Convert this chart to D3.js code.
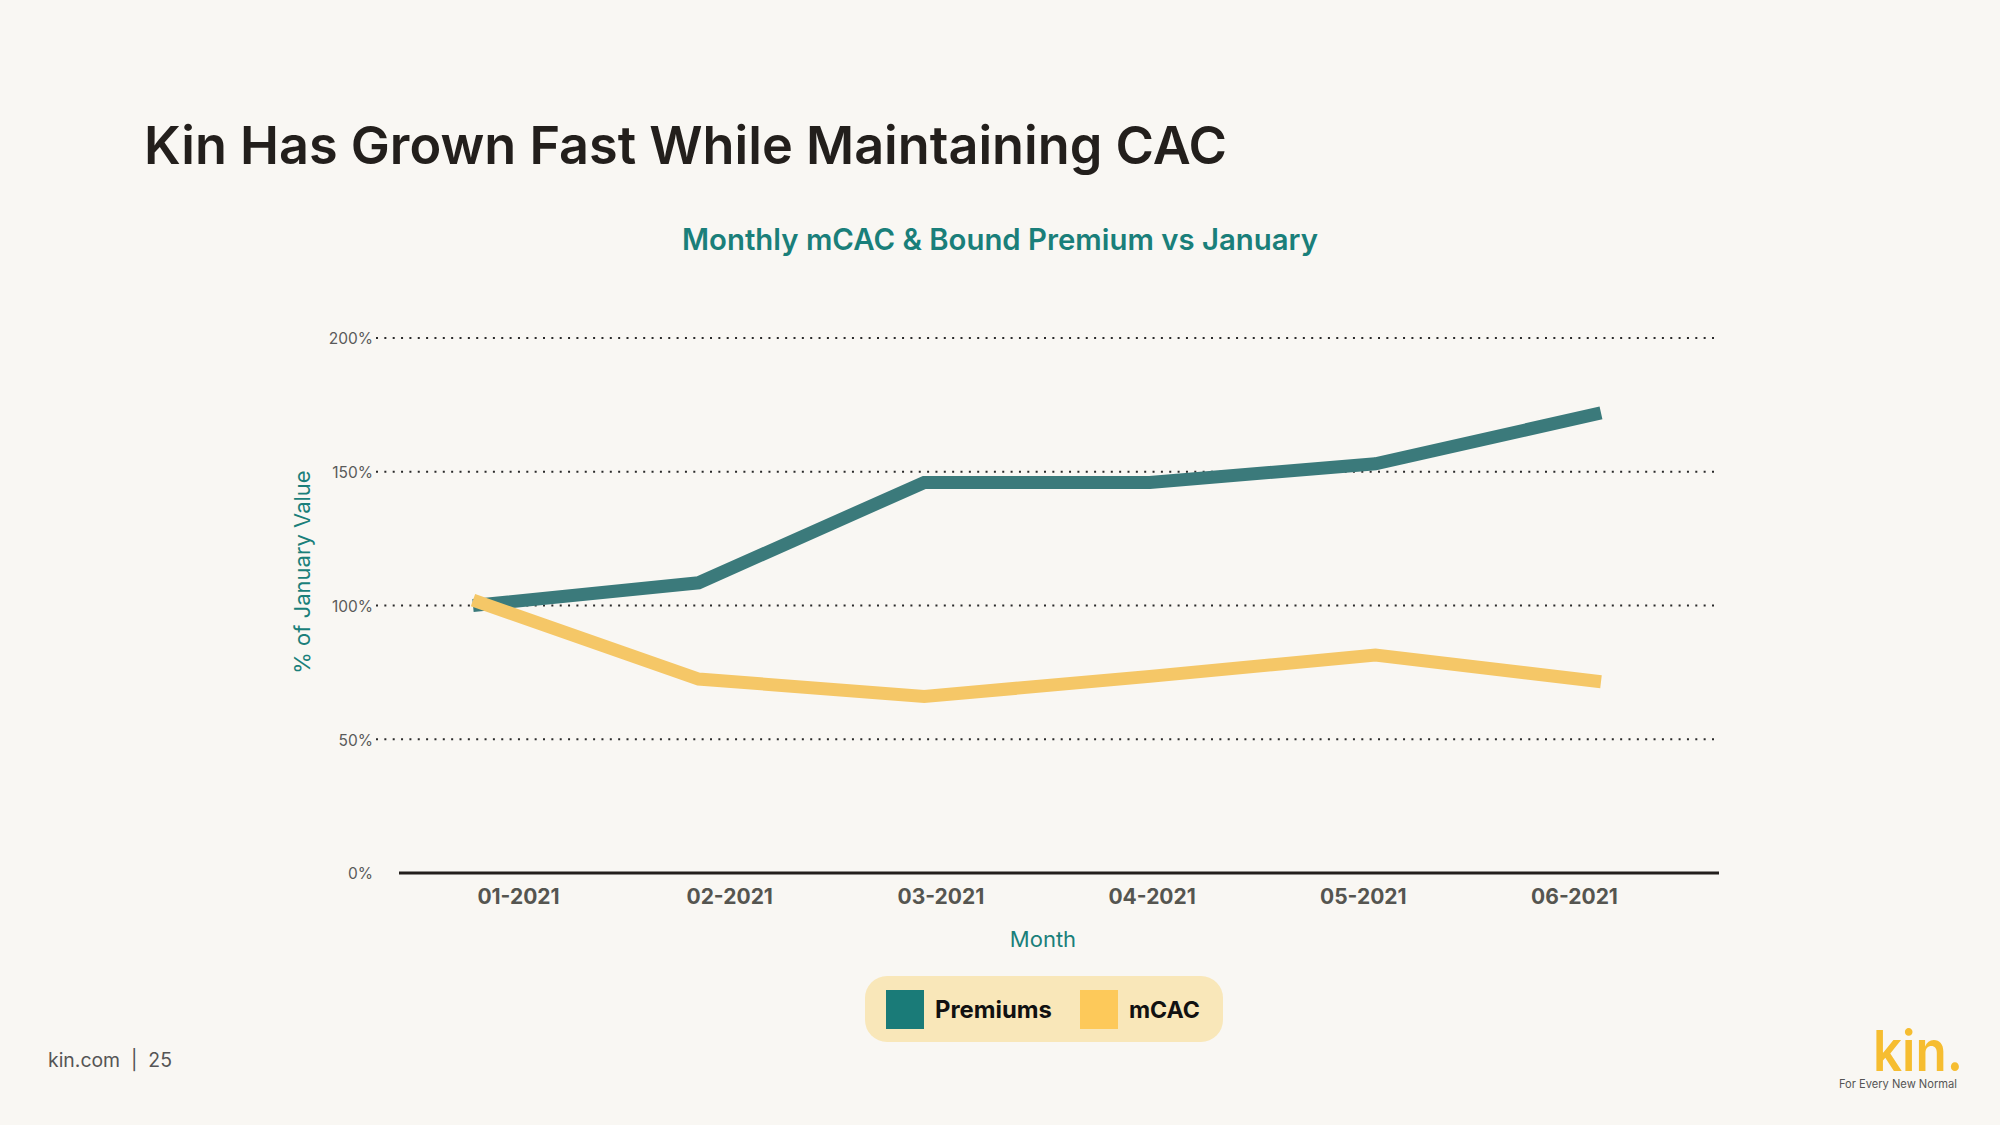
<!DOCTYPE html>
<html><head><meta charset="utf-8">
<script src="https://cdn.jsdelivr.net/npm/d3@7"></script>
<style>html,body{margin:0;padding:0;background:#f9f7f3;}svg{display:block;}</style>
</head><body>
<script>
const months = ["01-2021","02-2021","03-2021","04-2021","05-2021","06-2021"];
const premiums = [100, 108.5, 146, 146, 153, 172];
const mcac = [102, 72.5, 66, 73.5, 81.5, 71.5];
const yTicks = [0, 50, 100, 150, 200];
const seriesNames = ["Premiums", "mCAC"];

const W = 2000, H = 1125;
const FONT = "Inter, 'Noto Sans', sans-serif";
const svg = d3.select("body").append("svg").attr("width", W).attr("height", H);
svg.append("rect").attr("width", W).attr("height", H).attr("fill", "#f9f7f3");

function fit(sel, targetW) {
  const w = sel.node().getComputedTextLength();
  const fs = parseFloat(sel.attr("font-size"));
  sel.attr("font-size", (fs * targetW / w).toFixed(2));
  return sel;
}

// Title
fit(svg.append("text").attr("x", 144).attr("y", 164).attr("font-family", FONT)
  .attr("font-weight", 600).attr("font-size", 54).attr("fill", "#231f1c")
  .text("Kin Has Grown Fast While Maintaining CAC"), 1083);

// Subtitle
fit(svg.append("text").attr("x", 1000).attr("y", 250).attr("text-anchor", "middle")
  .attr("font-family", FONT).attr("font-weight", 600).attr("font-size", 30)
  .attr("fill", "#1a7f7a").text("Monthly mCAC & Bound Premium vs January"), 636);

const y = d3.scaleLinear().domain([0, 200]).range([873, 338]);
const xLine = d3.scalePoint().domain(months).range([473, 1601]);
const xLabel = d3.scalePoint().domain(months).range([518, 1574]);

// Gridlines
svg.append("g").selectAll("line").data(yTicks.filter(d => d > 0)).join("line")
  .attr("x1", 376).attr("x2", 1718)
  .attr("y1", d => y(d)).attr("y2", d => y(d))
  .attr("stroke", "#2a2a2a").attr("stroke-width", 2)
  .attr("stroke-dasharray", "2,6.35");

// Y axis labels
const yAxis = d3.axisLeft(y).tickValues(yTicks).tickFormat(d => d + "%").tickSize(0).tickPadding(0);
const gy = svg.append("g").attr("transform", "translate(373,1)").call(yAxis);
gy.select(".domain").remove();
gy.selectAll("text").attr("font-family", FONT).attr("font-size", 15.5).attr("fill", "#5a5a5a");

// X axis line
svg.append("line").attr("x1", 399).attr("x2", 1719).attr("y1", y(0)).attr("y2", y(0))
  .attr("stroke", "#231f1c").attr("stroke-width", 3);

// X axis labels
const xAxis = d3.axisBottom(xLabel).tickSize(0).tickPadding(0);
const gx = svg.append("g").attr("transform", `translate(0,${y(0) + 24})`).call(xAxis);
gx.select(".domain").remove();
gx.selectAll("text").attr("font-family", FONT).attr("font-weight", 700)
  .attr("font-size", 21).attr("fill", "#555550").attr("dy", "0.32em");

// Axis titles
svg.append("text").attr("x", 1043).attr("y", 947).attr("text-anchor", "middle")
  .attr("font-family", FONT).attr("font-size", 22).attr("fill", "#1a7f7a").text("Month");
svg.append("text").attr("transform", "translate(310,572) rotate(-90)").attr("text-anchor", "middle")
  .attr("font-family", FONT).attr("font-size", 22).attr("fill", "#1a7f7a").text("% of January Value");

// Lines
const line = d3.line().x((d, i) => xLine(months[i])).y(d => y(d));
svg.append("path").datum(premiums).attr("d", line).attr("fill", "none")
  .attr("stroke", "#3b7a7b").attr("stroke-width", 13).attr("stroke-linejoin", "miter");
svg.append("path").datum(mcac).attr("d", line).attr("fill", "none")
  .attr("stroke", "#f5c767").attr("stroke-width", 13).attr("stroke-linejoin", "miter");

// Legend
svg.append("rect").attr("x", 865).attr("y", 976).attr("width", 358).attr("height", 66)
  .attr("rx", 22).attr("fill", "#f9e7b9");
const legColors = ["#1a7b78", "#fdc95a"];
const legX = [886, 1080];
const legTW = [117, 71];
seriesNames.forEach((n, i) => {
  svg.append("rect").attr("x", legX[i]).attr("y", 990).attr("width", 38).attr("height", 39).attr("fill", legColors[i]);
  fit(svg.append("text").attr("x", legX[i] + 49).attr("y", 1018).attr("font-family", FONT)
    .attr("font-weight", 700).attr("font-size", 23).attr("fill", "#111").text(n), legTW[i]);
});

// Footer
fit(svg.append("text").attr("x", 48).attr("y", 1067).attr("font-family", FONT)
  .attr("font-size", 19).attr("fill", "#555").attr("xml:space", "preserve")
  .text("kin.com  |  25"), 124);

// Logo
svg.append("text").attr("x", 1873).attr("y", 1071).attr("font-family", FONT)
  .attr("font-weight", 600).attr("font-size", 56).attr("fill", "#f6bd30")
  .attr("textLength", 90).attr("lengthAdjust", "spacingAndGlyphs").text("kin.");
fit(svg.append("text").attr("x", 1839).attr("y", 1088).attr("font-family", FONT)
  .attr("font-size", 12).attr("fill", "#555").text("For Every New Normal"), 118);
</script>
</body></html>
